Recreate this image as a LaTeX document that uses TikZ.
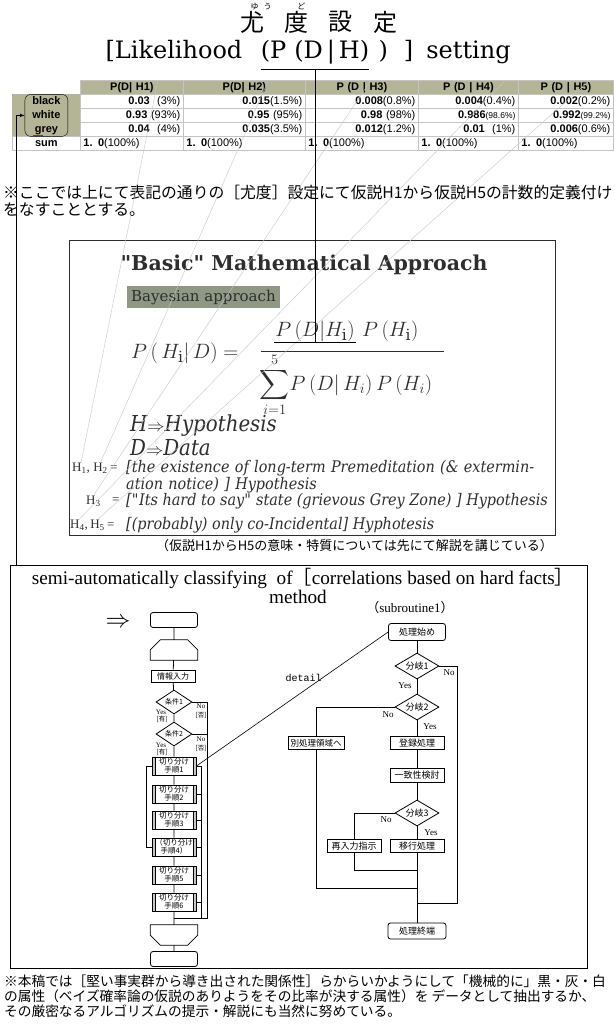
\documentclass[tikz,border=0pt]{standalone}
\usepackage{fontspec}
\usepackage{amsmath}
\usepackage{tikz}
\usetikzlibrary{positioning, matrix, shapes.geometric, calc}
\setmainfont{DejaVu Serif}
\newfontfamily\jpf{Noto Sans CJK JP}
\newfontfamily\tabf{Liberation Sans}
\newfontfamily\lserf{Liberation Serif}
\newfontfamily\detf{Liberation Mono}
\newfontfamily\hypf[FakeStretch=0.9]{DejaVu Serif}
\definecolor{hdrColor}{HTML}{B4B596}
\definecolor{bayesColor}{HTML}{8F9884}
\definecolor{gridColor}{HTML}{C4C4C4}
\definecolor{boxText}{HTML}{2E2E2E}
\newcommand{\fsz}[1]{\fontsize{#1}{#1}\selectfont}

\begin{document}
\begin{tikzpicture}[x=1pt, y=-1pt,
    flow/.style={draw, thick, inner sep=1pt, font=\jpf\fsz{9}},
    term/.style={flow, rounded corners=2.5pt},
    cond/.style={diamond, draw, thick, aspect=1.6, inner sep=0pt, font=\jpf\fsz{9}},
    proc/.style={flow, align=center, minimum width=44pt, minimum height=18pt, font=\jpf\fontsize{7.5}{8}\selectfont,
        path picture={
            \fill[gray!45] (path picture bounding box.south west) rectangle ([xshift=3pt]path picture bounding box.north west);
            \fill[gray!45] ([xshift=-3pt]path picture bounding box.south east) rectangle (path picture bounding box.north east);
            \draw ([xshift=3pt]path picture bounding box.south west) -- ([xshift=3pt]path picture bounding box.north west);
            \draw ([xshift=-3pt]path picture bounding box.south east) -- ([xshift=-3pt]path picture bounding box.north east);}},
    yn/.style={font=\lserf\fsz{9}, inner sep=0pt},
    ynsmall/.style={font=\lserf\fsz{7}, inner sep=0pt},
    hyp/.style={font=\hypf\itshape\fontsize{16}{15}\selectfont, text=boxText, inner sep=0pt, anchor=west},
    hlab/.style={font=\lserf\fsz{13}, text=boxText, inner sep=0pt},
    fml/.style={font=\fsz{22}, text=boxText, inner sep=0pt},
    ttl/.style={font=\fsz{24}, inner sep=0pt},
    hair/.style={gray!45, line width=0.4pt}]
    \useasboundingbox (0,0) rectangle (615,1029);

    % title
    \node[font=\jpf\fsz{24}, inner sep=0pt] (k1) at (252,22) {尤};
    \node[font=\jpf\fsz{24}, inner sep=0pt, right=20pt of k1] (k2) {度};
    \node[font=\jpf\fsz{24}, inner sep=0pt, right=20pt of k2] (k3) {設};
    \node[font=\jpf\fsz{24}, inner sep=0pt, right=20pt of k3] (k4) {定};
    \node[font=\jpf\fsz{8}, inner sep=0pt, above=1pt of k1, xshift=9pt] (fu1) {ゆ\hspace{5pt}う};
    \node[font=\jpf\fsz{8}, inner sep=0pt, above=1pt of k2, xshift=5pt] (fu2) {ど};
    \node[ttl, anchor=base] (ttlM) at (315,58) {(P\hspace{8pt}(D\,|\,H)};
    \node[ttl, base left=18pt of ttlM] (ttlA) {[Likelihood};
    \node[ttl, base right=9pt of ttlM] (ttlB) {)\hspace{16pt}]\hspace{13pt}setting};

    % likelihood table
    \matrix (tab) [matrix of nodes, anchor=north west, inner sep=0pt, column sep=-0.4pt, row sep=-0.4pt,
        nodes={draw=gridColor, line width=0.4pt, inner xsep=3pt, inner ysep=0pt, text height=8.5pt,
            text depth=2.5pt, minimum height=14pt, font=\tabf\fsz{11}},
        column 1/.style={nodes={text width=62pt, align=center, fill=hdrColor, draw=none, font=\tabf\bfseries\fsz{11}}},
        column 2/.style={nodes={text width=97pt, align=right}},
        column 3/.style={nodes={text width=116pt, align=right}},
        column 4/.style={nodes={text width=107pt, align=right}},
        column 5/.style={nodes={text width=94pt, align=right}},
        column 6/.style={nodes={text width=89pt, align=right}},
        row 1/.style={nodes={fill=hdrColor, align=center, font=\tabf\bfseries\fsz{11}}},
        row 5/.style={nodes={align=left, draw=gridColor, fill=white}},
        row 5 column 1/.style={nodes={align=center}}] at (12,80) {
          & P(D\textbar\ H1) & P(D\textbar\ H2) & P (D \textbar\ H3) & P (D \textbar\ H4) & P (D \textbar\ H5) \\
        black & \textbf{0.03} \ (3\%) & \textbf{0.015}(1.5\%) & \textbf{0.008}(0.8\%) & \textbf{0.004}(0.4\%) & \textbf{0.002}(0.2\%) \\
        white & \textbf{0.93} (93\%) & \textbf{0.95} (95\%) & \textbf{0.98} (98\%) & \textbf{0.986}{\fsz{8.5}(98.6\%)} & \textbf{0.992}{\fsz{8.5}(99.2\%)} \\
        grey & \textbf{0.04} \ (4\%) & \textbf{0.035}(3.5\%) & \textbf{0.012}(1.2\%) & \textbf{0.01} \ (1\%) & \textbf{0.006}(0.6\%) \\
        sum & \textbf{1. 0}(100\%) & \textbf{1. 0}(100\%) & \textbf{1. 0}(100\%) & \textbf{1. 0}(100\%) & \textbf{1. 0}(100\%) \\
    };
    \node[draw, rounded corners=6pt, minimum width=43pt, minimum height=42pt] (bwg) at (tab-3-1) {};
    \draw[red, line width=0.7pt] ($(tab-4-1.center)+(-13,6)$) -- ++(10,0);

    \node[font=\jpf\fontsize{15.8}{17}\selectfont, inner sep=0pt, anchor=north west, align=left] (note1) at (3,185)
        {※ここでは上にて表記の通りの［尤度］設定にて仮説H1から仮説H5の計数的定義付け\\をなすこととする。};

    % basic approach box
    \node[draw=boxText, line width=0.8pt, minimum width=486pt, minimum height=295pt, inner sep=0pt] (basic) at (312,387.5) {};
    \node[font=\bfseries\fsz{20.5}, text=boxText, inner sep=0pt] (btitle) at (304,265) {\textquotedbl Basic\textquotedbl\ Mathematical Approach};
    \node[fill=bayesColor, anchor=west, font=\fsz{15}, text=boxText, inner xsep=4pt, minimum height=17pt] (bayes) at (127,297) {Bayesian approach};
    \node[fml, anchor=base west] (lhs) at (131,358) {$P\,(\,H_{\mathrm{i}}|\,D) =$};
    \node[fml, anchor=base, inner sep=1pt] (numA) at (315,336) {$P\,(D|H_{\mathrm{i}})$};
    \node[fml, base right=6pt of numA] (numB) {$P\,(H_{\mathrm{i}})$};
    \draw[boxText, line width=0.8pt] (261,351) -- (444,351);
    \node[fml, anchor=base] (den) at (346,390) {$\displaystyle\sum_{i=1}^{5}\!P\,(D|\,H_i)\,P\,(H_i)$};
    \node[hyp, font=\hypf\itshape\fsz{22}] (hyH) at (130,426) {H{\fsz{16}$\Rightarrow$}Hypothesis};
    \node[hyp, font=\hypf\itshape\fsz{22}] (hyD) at (130,448) {D{\fsz{16}$\Rightarrow$}Data};
    \node[hlab, anchor=west] (hA) at (72,468) {H\textsubscript{1},};
    \node[hlab, base right=3pt of hA] (hB) {H\textsubscript{2}};
    \node[hlab, base right=2pt of hB] (eqA) {=};
    \node[hyp, anchor=north west, text width=430pt, align=left] (txA) at (126,460)
        {[the existence of long-term Premeditation (\& extermin-\\ation notice) ] Hypothesis};
    \node[hlab, anchor=west] (hC) at (86,501) {H\textsubscript{3}};
    \node[hlab, anchor=west] (eqB) at (112,501) {=};
    \node[hyp] (txB) at (126,501) {[\textquotedbl Its hard to say\textquotedbl\ state (grievous Grey Zone) ] Hypothesis};
    \node[hlab, anchor=west] (hD) at (70,525) {H\textsubscript{4},};
    \node[hlab, base right=2pt of hD] (hE) {H\textsubscript{5}};
    \node[hlab, base right=2pt of hE] (eqC) {=};
    \node[hyp] (txC) at (126,525) {[(probably) only co-Incidental] Hyphotesis};
    \node[font=\jpf\fsz{13}, inner sep=0pt, anchor=east] (note2) at (553,546)
        {（仮説H1からH5の意味・特質については先にて解説を講じている）};

    % links from table
    \draw[hair] ($(tab-1-2.north)+(26,0)$) -- (hA.north);
    \draw[hair] ($(tab-1-3.north)+(24,0)$) -- (hB.north);
    \draw[hair] ($(tab-1-4.north)+(9,0)$) -- (hC.north);
    \draw[hair] ($(tab-1-5.north)+(37,0)$) -- (hD.north);
    \draw[hair] ($(tab-1-6.north)+(24,0)$) -- (hE.north);
    \draw[semithick] ([yshift=-5pt]ttlM.south west) -- ([yshift=-5pt]ttlM.south east);
    \draw[semithick] ([yshift=-5pt]ttlM.south) -- (numA.south);
    \draw[semithick] (numA.south west) -- (numA.south east);

    % method box
    \node[draw, line width=0.8pt, minimum width=577pt, minimum height=403pt, inner sep=0pt] (meth) at (298.5,766.5) {};
    \draw[-latex, semithick] ($(meth.north west)+(7,0)$) |- (bwg.west);
    \node[font=\lserf\fsz{19.2}, inner sep=0pt] (mt1) at (303,578)
        {semi-automatically classifying\ \ of{\jpf［}correlations based on hard facts{\jpf］}};
    \node[font=\lserf\fsz{19.2}, inner sep=0pt] (mt2) at (298,597) {method};
    \node[font=\lserf\fsz{13}, inner sep=0pt] (sub) at (410,608) {{\jpf（}subroutine1{\jpf）}};
    \node[font=\fsz{26}, inner sep=0pt] (dbl) at (118,623) {$\Rightarrow$};

    % main flow
    \node[term, minimum width=47pt, minimum height=15pt] (t1) at (174,620) {};
    \node[minimum width=47pt, minimum height=20pt, inner sep=0pt] (ls) at (174,650) {};
    \draw[thick] (ls.south west) -- ($(ls.north west)+(0,10)$) -- ($(ls.north west)+(10,0)$)
        -- ($(ls.north east)+(-10,0)$) -- ($(ls.north east)+(0,10)$) -- (ls.south east) -- cycle;
    \node[flow, font=\jpf\fsz{8}, minimum width=44pt, minimum height=12pt] (inp) at (173,676) {情報入力};
    \node[cond, font=\jpf\fsz{7}, minimum width=36pt, minimum height=24pt] (c1) at (174,702) {条件1};
    \node[cond, font=\jpf\fsz{7}, minimum width=36pt, minimum height=24pt] (c2) at (174,734) {条件2};
    \node[proc] (s1) at (174,766) {切り分け\\手順1};
    \node[proc] (s2) at (174,794) {切り分け\\手順2};
    \node[proc] (s3) at (174,820) {切り分け\\手順3};
    \node[proc] (s4) at (174,847) {（切り分け\\手順4）};
    \node[proc] (s5) at (174,875) {切り分け\\手順5};
    \node[proc] (s6) at (174,902) {切り分け\\手順6};
    \node[minimum width=47pt, minimum height=20pt, inner sep=0pt] (le) at (174,935) {};
    \draw[thick] (le.north west) -- ($(le.south west)+(0,-10)$) -- ($(le.south west)+(10,0)$)
        -- ($(le.south east)+(-10,0)$) -- ($(le.south east)+(0,-10)$) -- (le.north east) -- cycle;
    \node[term, minimum width=47pt, minimum height=15pt] (t2) at (174,959) {};
    \coordinate (m1) at (174,918);
    \coordinate (rb) at (207,918);
    \coordinate (rs) at (201,918);
    \draw[thick] (t1) -- (ls) -- (inp) -- (c1) -- (c2) -- (s1) -- (s2) -- (s3) -- (s4) -- (s5) -- (s6) -- (le) -- (t2);
    \draw[thick] (c1.east) -| (rb) -- (m1);
    \draw[thick] (c2.east) -- (c2.east -| rb);
    \draw[thick] (s1.east) -| (rs);
    \draw[thick] (s2.east) -- (s2.east -| rs);
    \draw[thick] (s3.east) -- (s3.east -| rs);
    \draw[thick] (s4.east) -- (s4.east -| rs);
    \draw[thick] (s5.east) -- (s5.east -| rs);
    \draw[thick] (s6.east) -- (s6.east -| rs);
    \draw[thick] (s1.west) -- ++(-5,0) |- (s4.west);
    \node[ynsmall] (n1) at (201,706) {No};
    \node[ynsmall, font=\jpf\fsz{6.5}] (n1b) at (201,715) {[否]};
    \node[ynsmall] (y1) at (161,712) {Yes};
    \node[ynsmall, font=\jpf\fsz{6.5}] (y1b) at (162,719) {[有]};
    \node[ynsmall] (n2) at (201,739) {No};
    \node[ynsmall, font=\jpf\fsz{6.5}] (n2b) at (201,748) {[否]};
    \node[ynsmall] (y2) at (161,745) {Yes};
    \node[ynsmall, font=\jpf\fsz{6.5}] (y2b) at (162,752) {[有]};

    % subroutine 1
    \node[term, minimum width=57pt, minimum height=17pt] (st) at (417,632) {処理始め};
    \node[cond, minimum width=44pt, minimum height=26pt] (b1) at (417,666) {分岐1};
    \node[cond, minimum width=44pt, minimum height=26pt] (b2) at (417,707) {分岐2};
    \node[flow, font=\jpf\fsz{8.5}, minimum width=56pt, minimum height=13pt] (other) at (316,743) {別処理領域へ};
    \node[flow, minimum width=54pt, minimum height=13pt] (reg) at (417,743) {登録処理};
    \node[flow, minimum width=54pt, minimum height=14pt] (chk) at (417,775) {一致性検討};
    \node[cond, minimum width=44pt, minimum height=26pt] (b3) at (417,813) {分岐3};
    \node[flow, minimum width=54pt, minimum height=13pt] (re) at (354,846) {再入力指示};
    \node[flow, minimum width=54pt, minimum height=13pt] (mv) at (417,846) {移行処理};
    \node[term, minimum width=58pt, minimum height=16pt] (en) at (417,931) {処理終端};
    \coordinate (j1) at (417,903);
    \coordinate (r1) at (457,903);
    \coordinate (j2) at (417,888);
    \coordinate (j3) at (417,870);
    \draw[thick] (st) -- (b1) -- (b2) -- (reg) -- (chk) -- (b3) -- (mv) -- (en);
    \draw[thick] (b1.east) -| (r1) -- (j1);
    \draw[thick] (b2.west) -| (other.north);
    \draw[thick] (other.south) |- (j2);
    \draw[thick] (b3.west) -| (re.north);
    \draw[thick] (re.south) |- (j3);
    \node[yn] (bn1) at (449,673) {No};
    \node[yn] (by1) at (405,686) {Yes};
    \node[yn] (bn2) at (388,715) {No};
    \node[yn] (by2) at (430,727) {Yes};
    \node[yn] (bn3) at (386,820) {No};
    \node[yn] (by3) at (431,833) {Yes};
    \draw[semithick] (s1.east) -- node[pos=0.66, left=1pt, font=\detf\fsz{10}, inner sep=0pt] (dt) {detail} (st.west);

    \node[font=\jpf\fontsize{13.7}{15}\selectfont, inner sep=0pt, anchor=north west, align=left] (note3) at (4,975)
        {※本稿では［堅い事実群から導き出された関係性］らからいかようにして「機械的に」黒・灰・白\\
         の属性（ベイズ確率論の仮説のありようをその比率が決する属性）を データとして抽出するか、\\
         その厳密なるアルゴリズムの提示・解説にも当然に努めている。};
\end{tikzpicture}
\end{document}
